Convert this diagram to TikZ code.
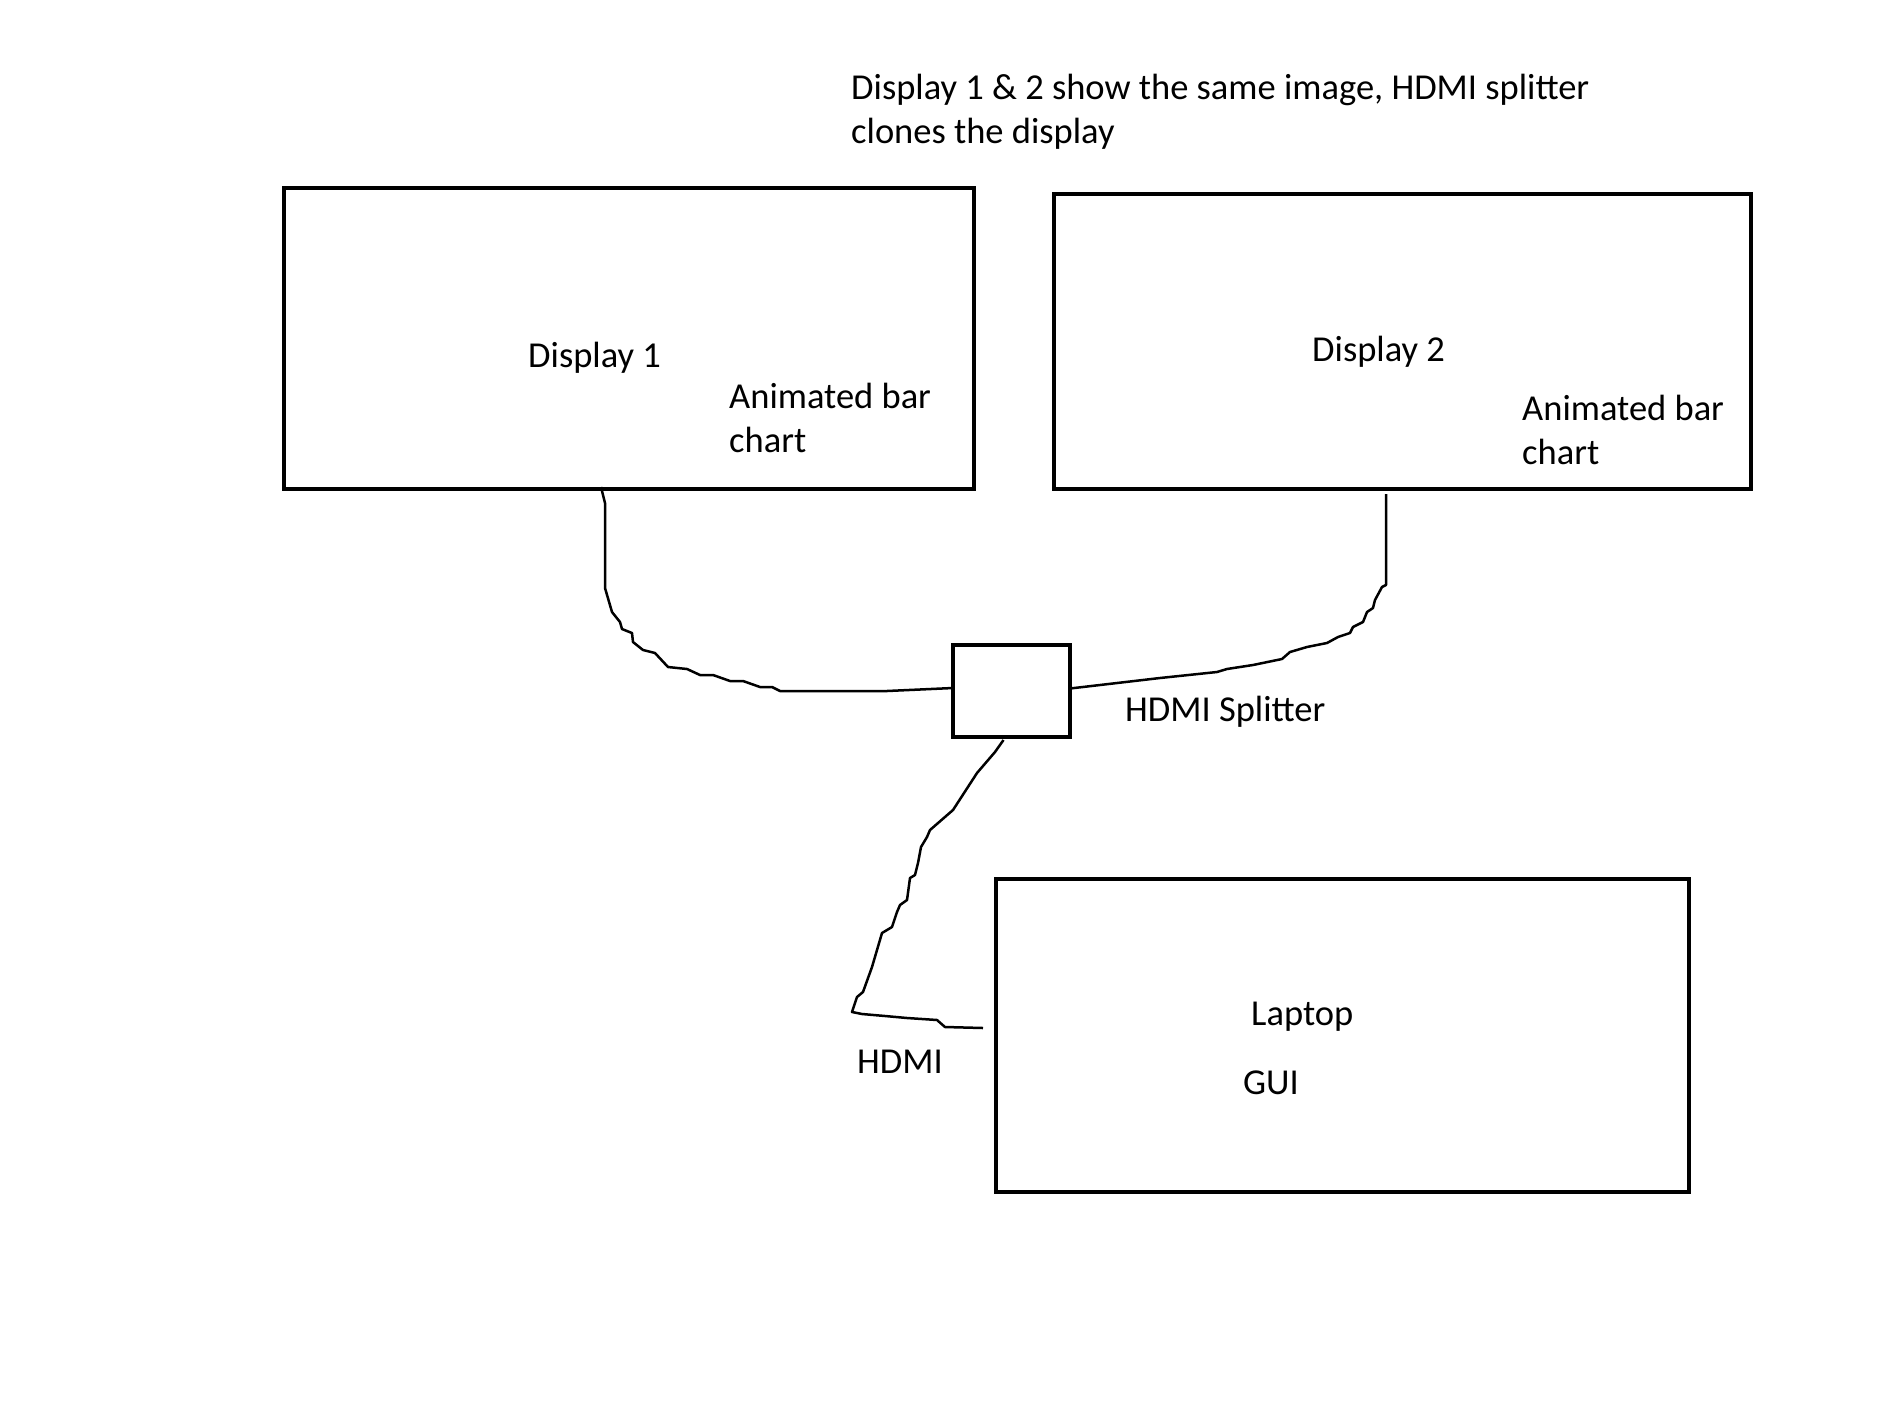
\documentclass[tikz,border=0pt]{standalone}
\usepackage{fontspec}
\setmainfont{Carlito}
\tikzset{
screen/.style={draw, line width=4pt, anchor=north west, inner sep=0pt, outer sep=0pt},
lbl/.style={anchor=base west, inner sep=0pt, align=left, font=\fontsize{36.5}{44}\selectfont},
cable/.style={line width=2.5pt, line join=round},
}

\begin{document}
\begin{tikzpicture}[x=1pt,y=-1pt]
\useasboundingbox (0,0) rectangle (1880,1406);
    \node[screen, minimum width=690pt, minimum height=301pt] (d1) at (284,188) {};
    \node[screen, minimum width=697pt, minimum height=295pt] (d2) at (1054,194) {};
    \node[screen, minimum width=117pt, minimum height=92pt] (split) at (953,645) {};
    \node[screen, minimum width=693pt, minimum height=313pt] (laptop) at (996,879) {};

    \node[lbl] (note) at (851,143) {Display 1 \& 2 show the same image, HDMI splitter\\clones the display};
    \node[lbl] (d1name) at (528,367) {Display 1};
    \node[lbl] (d1chart) at (729,452) {Animated bar\\chart};
    \node[lbl] (d2name) at (1312,361) {Display 2};
    \node[lbl] (d2chart) at (1522,464) {Animated bar\\chart};
    \node[lbl] (splitname) at (1125,721) {HDMI Splitter};
    \node[lbl] (lapname) at (1251,1025) {Laptop};
    \node[lbl] (gui) at (1243,1094) {GUI};
    \node[lbl] (hdmi) at (857,1073) {HDMI};

    \coordinate (hdmi end) at (983,1028);

    \draw[cable] ([xshift=317pt,yshift=2pt]d1.south west) -- (605,503) -- (605,588) -- (612,612) -- (620,622)
        -- (622,629) -- (632,633) -- (633,642) -- (643,650) -- (655,653) -- (668,667) -- (687,669)
        -- (700,675) -- (713,675) -- (730,681) -- (743,681) -- (760,687) -- (772,687) -- (780,691)
        -- (887,691) -- ([yshift=3pt]split.west);
    \draw[cable] ([xshift=332pt,yshift=-5pt]d2.south west) -- (1386,585) -- (1382,587) -- (1375,600) -- (1373,608)
        -- (1367,612) -- (1363,622) -- (1353,627) -- (1350,633) -- (1338,637) -- (1327,643) -- (1307,647)
        -- (1290,652) -- (1282,659) -- (1253,665) -- (1227,669) -- (1217,672) -- (1160,678)
        -- ([yshift=2.5pt]split.east);
    \draw[cable] ([xshift=-8pt,yshift=-3pt]split.south) -- (995,752) -- (977,773) -- (953,810) -- (930,830)
        -- (927,837) -- (921,847) -- (918,863) -- (915,875) -- (910,878) -- (907,900) -- (900,905)
        -- (897,912) -- (892,927) -- (882,933) -- (872,967) -- (863,992) -- (857,997) -- (852,1012)
        -- (862,1014) -- (885,1016) -- (907,1018) -- (937,1020) -- (945,1027) -- (hdmi end);
\end{tikzpicture}
\end{document}
